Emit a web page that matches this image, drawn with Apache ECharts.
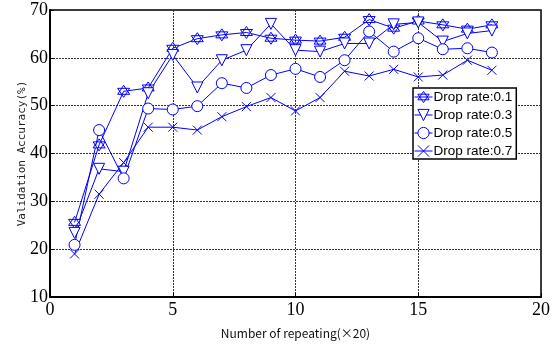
<!DOCTYPE html>
<html>
<head>
<meta charset="utf-8">
<script src="https://cdn.jsdelivr.net/npm/echarts@6/dist/echarts.min.js"></script>
<style>
  html, body { margin: 0; padding: 0; background: #fff; }
  #main { width: 560px; height: 344px; }
</style>
</head>
<body>
<div id="main"></div>
<script>
// repeat count (x20)
var repeats = [1, 2, 3, 4, 5, 6, 7, 8, 9, 10, 11, 12, 13, 14, 15, 16, 17, 18];

var seriesNames = ['Drop rate:0.1', 'Drop rate:0.3', 'Drop rate:0.5', 'Drop rate:0.7'];

var drop01 = [25.6, 41.8, 53.0, 53.7, 62.0, 64.0, 64.8, 65.3, 64.1, 63.7, 63.5, 64.3, 68.0, 66.2, 67.7, 66.9, 66.0, 66.9];
var drop03 = [23.4, 36.8, 36.2, 52.6, 60.6, 53.8, 59.5, 61.6, 67.1, 61.6, 61.3, 63.0, 63.0, 67.0, 67.4, 63.4, 65.1, 65.7];
var drop05 = [20.9, 44.9, 34.8, 49.4, 49.2, 49.9, 54.7, 53.7, 56.4, 57.7, 56.0, 59.5, 65.5, 61.3, 64.1, 61.8, 62.0, 61.1];
var drop07 = [19.0, 31.5, 38.1, 45.5, 45.5, 44.9, 47.7, 49.8, 51.7, 48.9, 51.7, 57.2, 56.2, 57.6, 56.0, 56.4, 59.5, 57.4];

var blue = '#0000ff';

// marker shapes
var hexagram = 'path://M0,-10L8.66,5L-8.66,5ZM0,10L8.66,-5L-8.66,-5Z';
var crossMark = 'path://M-10,-10L10,10M10,-10L-10,10';

function pairs(vals) {
    var out = [];
    for (var i = 0; i < vals.length; i++) {
        out.push([repeats[i], vals[i]]);
    }
    return out;
}

function makeSeries(name, vals, symbol, size, rotate) {
    return {
        name: name,
        type: 'line',
        data: pairs(vals),
        symbol: symbol,
        symbolSize: size,
        symbolRotate: rotate || 0,
        showAllSymbol: true,
        animation: false,
        lineStyle: { color: blue, width: 1 },
        itemStyle: { color: '#fff', borderColor: blue, borderWidth: 1 },
        emphasis: { disabled: true }
    };
}

var myChart = echarts.init(document.getElementById('main'));

var gridLine = { show: true, lineStyle: { color: '#333', type: [2, 1], width: 1 } };
var tickFont = { fontFamily: 'Liberation Sans Narrow', fontSize: 18, color: '#000' };

myChart.setOption({
    backgroundColor: '#fff',
    grid: {
        left: 50, right: 19, top: 10, bottom: 47,
        show: true, borderColor: '#000', borderWidth: 1.5
    },
    legend: {
        data: seriesNames,
        orient: 'vertical',
        left: 413, top: 88,
        itemGap: 4,
        itemWidth: 18, itemHeight: 14,
        padding: [2, 4, 1, 1],
        borderColor: '#000', borderWidth: 1.5,
        backgroundColor: '#fff',
        itemStyle: { borderWidth: 1 },
        lineStyle: { width: 1 },
        textStyle: { fontFamily: 'Liberation Sans', fontSize: 13.5, color: '#000', padding: [0, 0, 0, -4] }
    },
    xAxis: {
        type: 'value',
        min: 0, max: 20, interval: 5,
        name: 'Number of repeating(×20)',
        nameLocation: 'middle',
        nameGap: 30,
        nameTextStyle: { fontFamily: 'Noto Sans CJK JP', fontSize: 12, color: '#111' },
        axisLine: { show: true, lineStyle: { color: '#000', width: 2 } },
        axisTick: { show: true, inside: true, length: 4, lineStyle: { color: '#000' } },
        axisLabel: Object.assign({ margin: 4 }, tickFont),
        splitLine: gridLine
    },
    yAxis: {
        type: 'value',
        min: 10, max: 70, interval: 10,
        name: 'Validation Accuracy(%)',
        nameLocation: 'middle',
        nameGap: 22,
        nameMoveOverlap: false,
        nameTextStyle: { fontFamily: 'DejaVu Sans Mono', fontSize: 11, color: '#222' },
        axisLine: { show: true, lineStyle: { color: '#000', width: 2 } },
        axisTick: { show: true, inside: true, length: 4, lineStyle: { color: '#000' } },
        axisLabel: Object.assign({ margin: 2 }, tickFont),
        splitLine: gridLine
    },
    series: [
        makeSeries(seriesNames[0], drop01, hexagram, 12),
        makeSeries(seriesNames[1], drop03, 'triangle', 11, 180),
        makeSeries(seriesNames[2], drop05, 'circle', 11),
        makeSeries(seriesNames[3], drop07, crossMark, 9)
    ]
});
</script>
</body>
</html>
